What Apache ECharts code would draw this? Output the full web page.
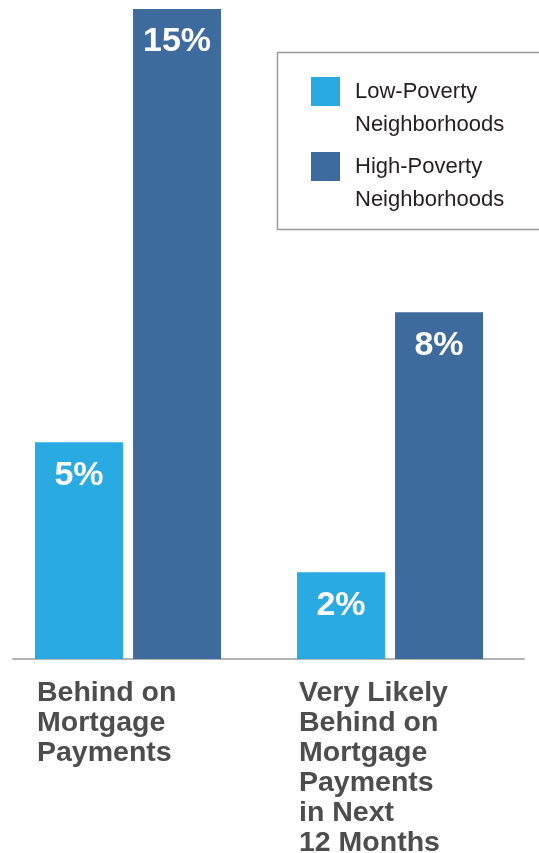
<!DOCTYPE html>
<html>
<head>
<meta charset="utf-8">
<script src="https://cdn.jsdelivr.net/npm/echarts@6/dist/echarts.min.js"></script>
<style>
  html, body { margin: 0; padding: 0; background: #fff; }
  #chart { width: 539px; height: 853px; }
</style>
</head>
<body>
<div id="chart"></div>
<script>
// data
var categories = ['Behind on\nMortgage\nPayments', 'Very Likely\nBehind on\nMortgage\nPayments\nin Next\n12 Months'];
var seriesNames = ['Low-Poverty Neighborhoods', 'High-Poverty Neighborhoods'];
var lowPoverty = [5, 2];
var highPoverty = [15, 8];

var font = '"Liberation Sans", Arial, Helvetica, sans-serif';
var lightBlue = '#29aae1';
var darkBlue = '#3e6b9e';

var chart = echarts.init(document.getElementById('chart'));

var barLabel = {
    show: true,
    position: 'insideTop',
    distance: 16,
    formatter: '{c}%',
    color: '#fff',
    fontFamily: font,
    fontWeight: 'bold',
    fontSize: 34
};

var option = {
    animation: false,
    backgroundColor: '#fff',
    textStyle: { fontFamily: font },
    graphic: [{
        // legend frame
        type: 'rect',
        left: 275,
        top: 50,
        shape: { width: 280, height: 177 },
        style: { fill: 'none', stroke: '#9a9a9a', lineWidth: 1.5 },
        z: 1
    }],
    legend: {
        orient: 'vertical',
        left: 311,
        top: 42,
        padding: 0,
        itemWidth: 29,
        itemHeight: 29,
        itemGap: -24,
        icon: 'rect',
        data: seriesNames,
        // blank first line so the icon sits next to the first text line
        formatter: function(name) {
            return '\n' + name.replace(' ', '\n');
        },
        textStyle: {
            fontFamily: font,
            fontSize: 22,
            lineHeight: 33,
            color: '#231f20',
            padding: [0, 0, 0, 10]
        }
    },
    grid: [
        { left: -3, width: 524, top: 9, height: 650, outerBoundsMode: 'none' },   // bars
        { left: -94, width: 524, top: 9, height: 650, outerBoundsMode: 'none' },  // category labels
        { left: 13, right: 15, top: 9, height: 650, outerBoundsMode: 'none' }     // baseline
    ],
    xAxis: [{
            type: 'category',
            gridIndex: 0,
            data: categories,
            axisLine: { show: false },
            axisTick: { show: false },
            axisLabel: { show: false }
        },
        {
            type: 'category',
            gridIndex: 1,
            data: categories,
            axisLine: { show: false },
            axisTick: { show: false },
            axisLabel: {
                align: 'left',
                verticalAlign: 'top',
                margin: 19,
                interval: 0,
                fontFamily: font,
                fontWeight: 'bold',
                fontSize: 28.5,
                lineHeight: 30,
                color: '#4d4d4d'
            }
        },
        {
            type: 'value',
            gridIndex: 2,
            min: 0,
            max: 1,
            axisLine: { show: true, lineStyle: { color: '#b3b3b3', width: 2 } },
            axisTick: { show: false },
            axisLabel: { show: false },
            splitLine: { show: false }
        }
    ],
    yAxis: [
        { type: 'value', gridIndex: 0, min: 0, max: 15, show: false },
        { type: 'value', gridIndex: 1, min: 0, max: 1, show: false },
        { type: 'value', gridIndex: 2, min: 0, max: 1, show: false }
    ],
    series: [{
            name: seriesNames[0],
            type: 'bar',
            xAxisIndex: 0,
            yAxisIndex: 0,
            barWidth: 88,
            barGap: '11.4%',
            itemStyle: { color: lightBlue },
            label: barLabel,
            data: lowPoverty
        },
        {
            name: seriesNames[1],
            type: 'bar',
            xAxisIndex: 0,
            yAxisIndex: 0,
            barWidth: 88,
            barGap: '11.4%',
            itemStyle: { color: darkBlue },
            label: barLabel,
            data: highPoverty
        }
    ]
};

chart.setOption(option);
</script>
</body>
</html>
